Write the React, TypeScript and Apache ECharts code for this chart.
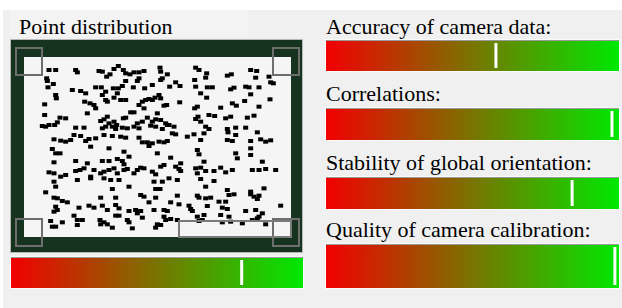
import React, { useEffect, useRef } from "react";
import * as echarts from "echarts";

// Point positions in sensor coordinates (0..801 x, 0..540 y, y downward)
const points: number[][] = [
  [75,39],[95,39],[155,39],[160,46],[225,42],[235,44],[248,59],[258,52],[270,36],[283,27],[298,39],[305,49],[318,52],[330,46],[345,46],[360,42],[408,32],[410,44],[415,64],[430,52],[515,32],[525,39],[545,62],[548,49],[610,56],[622,52],[680,39],[698,42],[695,62],[735,59],[748,79],
  [68,64],[70,72],[72,91],[88,81],[145,99],[170,102],[185,109],[215,91],[232,91],[245,104],[268,94],[283,94],[295,87],[305,72],[328,91],[340,72],[345,64],[362,94],[385,84],[410,69],[437,89],[455,76],[468,87],[512,69],[515,89],[550,91],[565,91],[620,97],[630,92],[665,89],[675,91],[705,91],[740,76],
  [95,114],[97,124],[62,142],[182,134],[198,139],[210,144],[215,154],[235,114],[245,129],[250,134],[270,122],[280,109],[290,129],[305,129],[345,144],[355,134],[365,129],[375,126],[385,129],[393,122],[405,114],[410,124],[360,154],[420,146],[428,144],[467,136],[512,154],[520,149],[530,109],[548,122],[590,152],[625,139],[637,146],[662,132],[680,112],[705,149],[738,127],
  [62,174],[108,182],[125,184],[190,169],[230,192],[240,187],[250,179],[255,199],[270,194],[278,204],[298,184],[305,182],[320,166],[330,166],[340,199],[355,194],[370,182],[385,194],[395,187],[400,169],[410,189],[425,199],[435,204],[515,186],[522,179],[530,194],[555,174],[572,177],[605,184],[620,179],[670,182],[690,176],[55,207],[65,209],[75,204],[92,204],[100,196],[155,212],[180,212],[235,214],[245,209],[265,209],[275,216],[295,212],[310,214],[330,209],[345,214],[380,206],[395,209],[415,216],[430,204],[450,209],[545,209],[555,216],[610,216],[612,226],[635,212],[665,212],[700,226],
  [90,247],[110,251],[125,254],[140,249],[150,234],[170,237],[185,252],[195,246],[215,244],[240,234],[265,237],[290,239],[305,242],[345,242],[355,256],[370,256],[385,259],[405,254],[420,256],[430,252],[445,229],[455,232],[490,239],[510,232],[530,249],[540,229],[610,249],[625,252],[635,234],[680,252],[710,247],[725,254],[740,250],
  [85,276],[95,289],[108,289],[200,269],[255,274],[300,284],[375,267],[400,289],[520,279],[525,292],[635,289],[680,274],[680,294],[90,316],[155,312],[190,319],[235,312],[255,312],[280,306],[295,312],[300,322],[315,299],[440,302],[470,319],[540,314],[640,304],[715,314],
  [75,346],[90,349],[110,359],[125,354],[155,342],[160,369],[168,339],[180,334],[200,359],[210,339],[230,349],[240,344],[255,339],[270,334],[280,349],[300,339],[310,336],[330,349],[340,339],[350,332],[360,334],[385,344],[395,352],[410,329],[420,324],[455,329],[465,336],[470,342],[515,334],[520,349],[530,332],[545,342],[570,342],[590,332],[605,346],[625,339],[685,339],[705,339],[725,336],[755,339],
  [90,374],[95,389],[200,364],[240,364],[260,369],[285,369],[315,389],[390,374],[415,374],[435,364],[460,369],[530,366],[570,372],[265,396],[395,396],[408,396],[545,389],[610,399],[680,404],[720,394],
  [65,406],[90,422],[100,424],[115,432],[130,436],[230,422],[275,422],[350,414],[360,419],[375,436],[395,422],[440,436],[460,416],[520,416],[525,422],[545,424],[560,422],[585,434],[605,434],[615,414],[630,412],[680,412],[690,419],[700,426],[705,416],
  [95,449],[90,464],[100,459],[165,452],[195,446],[210,452],[235,446],[250,459],[275,444],[285,454],[315,462],[335,459],[350,462],[390,459],[420,459],[430,462],[465,442],[495,446],[500,456],[505,462],[550,447],[595,452],[610,456],[665,462],[695,459],[705,479],[715,469],[770,446],
  [80,492],[150,476],[160,489],[160,504],[175,489],[228,489],[230,502],[240,496],[250,502],[265,512],[275,476],[285,476],[310,489],[315,496],[325,514],[340,469],[355,482],[400,502],[395,512],[410,504],[420,479],[425,489],[440,486],[460,489],[520,479],[525,492],[535,489],[540,474],[590,474],[595,496],[615,479],[620,494],[655,499],[685,489],[700,484],[725,502],[85,509],[95,509],[115,496]
];

const distributionTitle = "Point distribution";
const distributionQuality = 0.79;
const qualityLabels = [
  "Accuracy of camera data:",
  "Correlations:",
  "Stability of global orientation:",
  "Quality of camera calibration:"
];
const qualityValues = [0.58, 0.976, 0.84, 0.986];

// layout (pixels)
const barBoxes = [
  { left: 11, top: 257, width: 292, height: 31 },
  { left: 326, top: 40, width: 293, height: 31 },
  { left: 326, top: 108, width: 293, height: 32 },
  { left: 326, top: 177, width: 293, height: 32 },
  { left: 326, top: 244, width: 293, height: 44 }
];
const labelBaselines = [33, 100, 169, 236];

export default function App() {
  const ref = useRef<HTMLDivElement>(null);
  useEffect(() => {
    if (!ref.current) return;
    const chart = echarts.init(ref.current, null, { renderer: "svg" });
    const font = "'Liberation Serif', 'Times New Roman', serif";
    const grad = {
      type: "linear", x: 0, y: 0, x2: 1, y2: 0,
      colorStops: [
        { offset: 0, color: "#f20000" },
        { offset: 1, color: "#00e800" }
      ]
    };
    const allValues = [distributionQuality, ...qualityValues];

    const grids: any[] = [{ left: 24, top: 57, width: 267, height: 180 }];
    const xAxes: any[] = [{ gridIndex: 0, type: "value", min: 0, max: 801, show: false }];
    const yAxes: any[] = [{ gridIndex: 0, type: "value", min: 0, max: 540, inverse: true, show: false }];
    const series: any[] = [
      {
        type: "scatter", xAxisIndex: 0, yAxisIndex: 0, data: points,
        symbol: "rect", symbolSize: [5, 4], itemStyle: { color: "#000", opacity: 1 }, z: 3
      }
    ];
    barBoxes.forEach((b, i) => {
      const gi = i + 1;
      grids.push({ left: b.left, top: b.top, width: b.width, height: b.height });
      xAxes.push({ gridIndex: gi, type: "value", min: 0, max: 1, show: false });
      yAxes.push({ gridIndex: gi, type: "category", data: ["q"], show: false, boundaryGap: true });
      series.push({
        type: "bar", xAxisIndex: gi, yAxisIndex: gi, data: [1], barWidth: "100%",
        itemStyle: { color: grad }, silent: true, z: 2
      });
      series.push({
        type: "scatter", xAxisIndex: gi, yAxisIndex: gi, data: [[allValues[i], 0]],
        symbol: "rect", symbolSize: [3, b.height - 6], itemStyle: { color: "#ffffff", opacity: 1 }, z: 4
      });
    });

    const graphic: any[] = [
      { type: "rect", z: -10, shape: { x: 0, y: 0, width: 622, height: 308 }, style: { fill: "#ffffff" } },
      { type: "rect", z: -9, shape: { x: 3, y: 10, width: 619, height: 298 }, style: { fill: "#f0f0f0" } },
      { type: "rect", z: -8, shape: { x: 10, y: 10, width: 238, height: 27 }, style: { fill: "#f3f3f3" } },
      { type: "rect", z: -7, shape: { x: 10.5, y: 39.5, width: 292, height: 213 }, style: { fill: "#163320", stroke: "#b8b8b8", lineWidth: 1 } },
      { type: "rect", z: -6, shape: { x: 24, y: 57, width: 267, height: 180 }, style: { fill: "#f5f5f5" } },
      // corner squares and bottom rectangle
      { type: "rect", z: 10, shape: { x: 16, y: 48, width: 26, height: 27 }, style: { fill: "none", stroke: "#6e6e6e", lineWidth: 2 } },
      { type: "rect", z: 10, shape: { x: 273, y: 48, width: 26, height: 27 }, style: { fill: "none", stroke: "#6e6e6e", lineWidth: 2 } },
      { type: "rect", z: 10, shape: { x: 16, y: 219, width: 26, height: 27 }, style: { fill: "none", stroke: "#6e6e6e", lineWidth: 2 } },
      { type: "rect", z: 10, shape: { x: 273, y: 219, width: 26, height: 27 }, style: { fill: "none", stroke: "#6e6e6e", lineWidth: 2 } },
      { type: "rect", z: 10, shape: { x: 179, y: 221, width: 112, height: 16 }, style: { fill: "none", stroke: "#7a7a7a", lineWidth: 2 } },
      {
        type: "text", z: 10, x: 19, y: 37,
        style: { text: distributionTitle, font: `22px ${font}`, fill: "#000", verticalAlign: "bottom" }
      }
    ];
    qualityLabels.forEach((t, i) => {
      graphic.push({
        type: "text", z: 10, x: 326, y: labelBaselines[i] + 4,
        style: { text: t, font: `22px ${font}`, fill: "#000", verticalAlign: "bottom" }
      });
    });
    barBoxes.forEach((b) => {
      graphic.push({
        type: "line", z: 10,
        shape: { x1: b.left, y1: b.top + 0.5, x2: b.left + b.width, y2: b.top + 0.5 },
        style: { stroke: "#9a9a9a", lineWidth: 1 }
      });
      graphic.push({
        type: "rect", z: -5,
        shape: { x: b.left - 1, y: b.top - 1, width: b.width + 2, height: b.height + 2 },
        style: { fill: "#fafafa" }
      });
    });

    chart.setOption({
      animation: false,
      grid: grids,
      xAxis: xAxes,
      yAxis: yAxes,
      series,
      graphic
    });
    return () => chart.dispose();
  }, []);
  return (
    <div
      ref={ref}
      style={{ position: "absolute", left: 0, top: 0, width: 622, height: 308 }}
    />
  );
}
